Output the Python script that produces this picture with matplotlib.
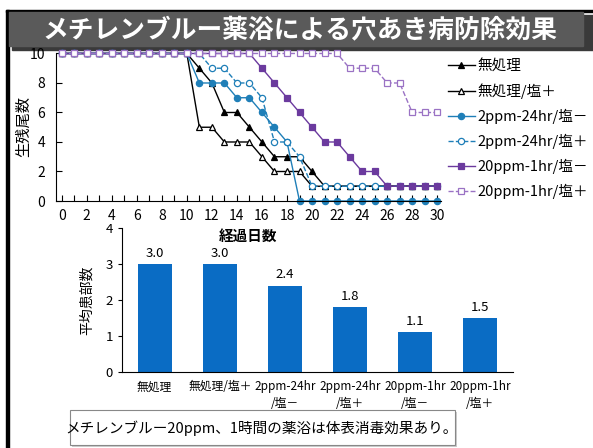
import matplotlib
matplotlib.use("Agg")
import matplotlib.pyplot as plt
from matplotlib.patches import Rectangle
from matplotlib.ticker import MultipleLocator

plt.rcParams['font.family'] = ['Noto Sans CJK JP', 'DejaVu Sans']

# survival counts per day (0..30)
days = list(range(31))
untreated = [10] * 11 + [9, 8, 6, 6, 5, 4, 3, 3, 3, 2] + [1] * 10
untreated_salt = [10] * 11 + [5, 5, 4, 4, 4, 3, 2, 2, 2] + [1] * 11
mb2_nosalt = [10] * 11 + [8, 8, 8, 7, 7, 6, 5, 4] + [0] * 12
mb2_salt = [10] * 12 + [9, 9, 8, 8, 7, 4, 4, 3] + [1] * 11
mb20_nosalt = [10] * 16 + [9, 8, 7, 6, 5, 4, 4, 3, 2, 2] + [1] * 5
mb20_salt = [10] * 23 + [9, 9, 9, 8, 8, 6, 6, 6]

series_names = ['無処理', '無処理/塩＋', '2ppm-24hr/塩－', '2ppm-24hr/塩＋',
                '20ppm-1hr/塩－', '20ppm-1hr/塩＋']

# mean number of lesions per group
bar_labels = ['無処理', '無処理/塩＋', '2ppm-24hr\n/塩－', '2ppm-24hr\n/塩＋',
              '20ppm-1hr\n/塩－', '20ppm-1hr\n/塩＋']
bar_values = [3.0, 3.0, 2.4, 1.8, 1.1, 1.5]

W, H = 593, 448
fig = plt.figure(figsize=(W / 100, H / 100), dpi=100)


def frac(x0, y0, x1, y1):
    # pixel box (top-left origin) -> figure fraction rect
    return [x0 / W, 1 - y1 / H, (x1 - x0) / W, (y1 - y0) / H]


# frame, title bar, bottom note
bg = fig.add_axes([0, 0, 1, 1])
bg.set_xlim(0, W)
bg.set_ylim(H, 0)
bg.axis('off')
bg.add_patch(Rectangle((6, 10), 587, 2.5, color='black'))
bg.add_patch(Rectangle((6, 10), 3, H - 10, color='black'))
bg.add_patch(Rectangle((12, 15), 581, 35, color='#3a3a3a'))
bg.add_patch(Rectangle((9, 12), 574, 34, color='#5a5a5a'))
bg.text(300, 30, 'メチレンブルー薬浴による穴あき病防除効果', color='white',
        fontsize=18.5, fontweight='bold', ha='center', va='center')
bg.add_patch(Rectangle((72, 412), 385, 35, facecolor='#cccccc', edgecolor='none'))
bg.add_patch(Rectangle((70, 410), 385, 35, facecolor='white', edgecolor='#888888', lw=0.8))
bg.text(262, 428, 'メチレンブルー20ppm、1時間の薬浴は体表消毒効果あり。',
        fontsize=10.5, ha='center', va='center')

# lesion bar chart (added first so the line chart's x label stays on top)
bx = fig.add_axes(frac(122, 228, 513, 372))
bx.patch.set_visible(False)
pos = range(len(bar_values))
bx.bar(pos, bar_values, width=0.52, color='#0a6cc4')
for p, v in zip(pos, bar_values):
    bx.text(p, v + 0.12, f'{v:.1f}', ha='center', va='bottom', fontsize=9.5)
bx.set_xlim(-0.5, 5.5)
bx.set_ylim(0, 4)
bx.set_xticks(list(pos))
bx.set_xticklabels(bar_labels, fontsize=8.5, linespacing=1.4)
bx.tick_params(axis='x', length=0, pad=6)
bx.tick_params(axis='y', length=3, labelsize=9.5)
bx.yaxis.set_major_locator(MultipleLocator(1))
for s in ['top', 'right']:
    bx.spines[s].set_visible(False)
bx.set_ylabel('平均患部数', fontsize=10)
bx.yaxis.set_label_coords(-0.072, 0.5)

# survival line chart
ax = fig.add_axes(frac(56, 52, 441, 201))
ax.patch.set_visible(False)
styles = [
    dict(color='black', ls='-', marker='^', mfc='black'),
    dict(color='black', ls='-', marker='^', mfc='white'),
    dict(color='#1f7fb8', ls='-', marker='o', mfc='#1f7fb8'),
    dict(color='#1f7fb8', ls='--', marker='o', mfc='white'),
    dict(color='#6b3a9e', ls='-', marker='s', mfc='#6b3a9e'),
    dict(color='#9a72c4', ls='--', marker='s', mfc='white'),
]
for vals, name, st in zip([untreated, untreated_salt, mb2_nosalt, mb2_salt,
                           mb20_nosalt, mb20_salt], series_names, styles):
    ax.plot(days, vals, lw=1, ms=4.5, mew=0.9, clip_on=False, label=name, **st)
ax.set_xlim(-0.45, 30.3)
ax.set_ylim(0, 10.1)
ax.xaxis.set_major_locator(MultipleLocator(2))
ax.xaxis.set_minor_locator(MultipleLocator(1))
ax.yaxis.set_major_locator(MultipleLocator(2))
ax.tick_params(direction='in', labelsize=10, length=4, width=0.8)
ax.tick_params(which='minor', direction='in', length=4, width=0.8)
ax.tick_params(axis='x', pad=6)
ax.tick_params(axis='y', pad=8)
for s in ['top', 'right']:
    ax.spines[s].set_visible(False)
ax.spines['left'].set_bounds(0, 10)
ax.set_ylabel('生残尾数', fontsize=11)
ax.yaxis.set_label_coords(-0.062, 0.5)
ax.set_xlabel('経過日数', fontsize=10.5, fontweight='bold')
ax.xaxis.set_label_coords(0.5, -0.18)
ax.legend(loc='upper left', bbox_to_anchor=(1.0, 1.0), frameon=False,
          fontsize=10.5, handlelength=1.8, handletextpad=0.2,
          labelspacing=0.68, borderaxespad=0.1)

fig.savefig('out.png', dpi=100)
